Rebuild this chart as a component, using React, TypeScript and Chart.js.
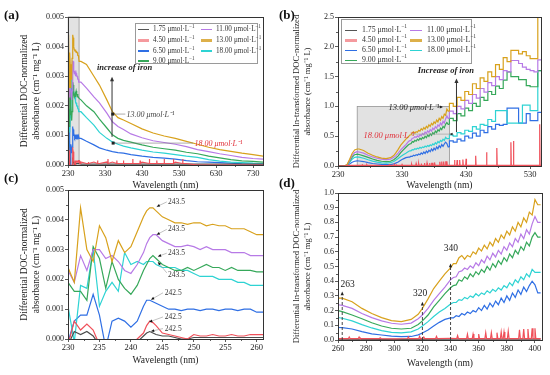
import React, { useEffect, useRef } from 'react';
import { Chart, registerables } from 'chart.js';

Chart.register(...registerables);

const SERIF = '"Liberation Serif", "Times New Roman", Times, serif';

// ---------- legend / series ----------
const concLabels = ['1.75', '4.50', '6.50', '9.00', '11.00', '13.00', '18.00'];
const seriesColors = ['#4d4d4d', '#f0505a', '#2f6fe4', '#36a85a', '#b77ae6', '#d8a11c', '#2ed3d3'];
const legendSampleColors = ['#555555', '#f59a9e', '#2f6fe4', '#36a85a', '#b77ae6', '#ddb04a', '#2ed3d3'];

// ---------- axis ticks ----------
const xTicksA = [230, 330, 430, 530, 630, 730];
const xMinorA = [280, 380, 480, 580, 680];
const xTicksB = [230, 330, 430, 530];
const xMinorB = [280, 380, 480];
const xTicksC = [230, 235, 240, 245, 250, 255, 260];
const xMinorC = [232.5, 237.5, 242.5, 247.5, 252.5, 257.5];
const xTicksD = [260, 280, 300, 320, 340, 360, 380, 400];
const xMinorD = [270, 290, 310, 330, 350, 370, 390];
const yTicksAC = [0, 0.001, 0.002, 0.003, 0.004, 0.005];
const yMinorAC = [0.0005, 0.0015, 0.0025, 0.0035, 0.0045];
const yTicksB = [0, 0.5, 1.0, 1.5, 2.0, 2.5];
const yMinorB = [0.25, 0.75, 1.25, 1.75, 2.25];
const yTicksD = [0, 0.1, 0.2, 0.3, 0.4, 0.5, 0.6, 0.7, 0.8, 0.9, 1.0];
const yMinorD = [0.05, 0.15, 0.25, 0.35, 0.45, 0.55, 0.65, 0.75, 0.85, 0.95];

// ---------- panel (c): 230-261 nm (also start of panel a) ----------
const wlC = [230, 231, 232, 233, 234, 235, 236, 237, 238, 239, 240, 241, 242, 242.5, 243, 243.5, 244, 245, 246, 247, 248, 249, 250, 251, 252, 253, 254, 255, 256, 257, 258, 259, 260, 261];
const cBlack = [-0.0002, 0.00025, 0.00015, 0.00025, 0.0001, -0.0002, -0.0003, -0.0003, -0.0003, -0.0003, -0.0002, -0.0001, 0.0001, 0.0002, 0.00025, 0.0002, 0.00015, 0.0001, 0.0001, 0.00005, 0, 0, 0.00005, 0.00005, 0.00005, 0.00005, 0.00005, 0.00005, 0.00005, 0.00005, 0.00005, 0.00005, 0.00005, 0.00005];
const cRed = [-0.0002, 0.0006, 0.0003, 0.0005, 0.0003, -0.0002, -0.0004, -0.0003, -0.0004, -0.0003, -0.0002, 0, 0.0002, 0.00045, 0.0006, 0.00055, 0.00045, 0.0002, 0.00015, 0.0001, 0.00005, 0, 0.00015, 0.0001, 0.0001, 0.00015, 0.0001, 0.0001, 0.00015, 0.0001, 0.0001, 0.00015, 0.00015, 0.00015];
const cBlue = [-0.0001, 0.0006, 0.0008, 0.0008, 0.0015, 0.0008, -0.0003, 0.0006, 0.0007, 0.0006, 0.0004, 0.0006, 0.0011, 0.0013, 0.0013, 0.00125, 0.0012, 0.0011, 0.001, 0.001, 0.00095, 0.001, 0.001, 0.00095, 0.001, 0.001, 0.00095, 0.001, 0.001, 0.00095, 0.001, 0.001, 0.0009, 0.0009];
const cCyan = [0.0011, -0.0001, 0.0018, 0.0017, 0.003, 0.0011, 0.0016, 0.0019, 0.0016, 0.0029, 0.0025, 0.0026, 0.0025, 0.0026, 0.0026, 0.0026, 0.0025, 0.0024, 0.0024, 0.0024, 0.0023, 0.0023, 0.0022, 0.0021, 0.0021, 0.0021, 0.002, 0.002, 0.002, 0.0019, 0.0019, 0.0018, 0.0018, 0.0018];
const cGreen = [0.0019, 0.0016, 0.0016, 0.0013, 0.0031, 0.0027, 0.0017, 0.0026, 0.002, 0.0017, 0.0015, 0.0018, 0.0023, 0.0025, 0.0027, 0.0028, 0.0027, 0.0025, 0.0024, 0.0023, 0.0023, 0.0024, 0.0023, 0.0024, 0.0025, 0.0024, 0.0024, 0.0023, 0.0024, 0.0023, 0.0023, 0.0023, 0.00225, 0.00225];
const cPurple = [0.0023, 0.0019, 0.0028, 0.0023, 0.003, 0.003, 0.0027, 0.0028, 0.0026, 0.0023, 0.0022, 0.0025, 0.0029, 0.0032, 0.0034, 0.0035, 0.0035, 0.0033, 0.0032, 0.0031, 0.0031, 0.00315, 0.0031, 0.003, 0.0031, 0.003, 0.003, 0.003, 0.0029, 0.0029, 0.0029, 0.0028, 0.0028, 0.0028];
const cGold = [0.0024, 0.0019, 0.0044, 0.003, 0.0026, 0.0038, 0.0034, 0.0026, 0.0033, 0.0029, 0.0031, 0.0036, 0.0041, 0.0043, 0.0044, 0.0044, 0.0043, 0.0041, 0.004, 0.0039, 0.0039, 0.00385, 0.0039, 0.0039, 0.0038, 0.00385, 0.0038, 0.0038, 0.0037, 0.0037, 0.0037, 0.0036, 0.0035, 0.0035];

// ---------- panel (a): 265-757 nm ----------
const wlATail = [265, 280, 300, 315, 335, 350, 365, 380, 400, 430, 460, 490, 520, 550, 580, 610, 640, 670, 700, 730, 757];
const tailAGold = [0.0035, 0.0034, 0.003, 0.0027, 0.0022, 0.0018, 0.0016, 0.00152, 0.0014, 0.00122, 0.00108, 0.00098, 0.0009, 0.0008, 0.0007, 0.0006, 0.00052, 0.00046, 0.0004, 0.00035, 0.0003];
const tailAPurple = [0.0028, 0.0026, 0.0023, 0.0021, 0.00175, 0.00146, 0.0013, 0.0012, 0.00105, 0.00092, 0.00082, 0.00076, 0.0007, 0.00062, 0.00052, 0.00045, 0.00038, 0.00032, 0.00026, 0.00022, 0.0002];
const tailAGreen = [0.0022, 0.002, 0.0018, 0.00155, 0.00125, 0.00102, 0.0009, 0.00083, 0.00077, 0.00068, 0.0006, 0.00055, 0.0005, 0.00043, 0.00038, 0.0003, 0.00024, 0.00018, 0.00014, 0.00012, 0.0001];
const tailACyan = [0.0018, 0.0016, 0.00135, 0.0011, 0.0009, 0.00078, 0.0007, 0.00064, 0.00058, 0.0005, 0.00044, 0.0004, 0.00035, 0.0003, 0.00026, 0.00018, 0.00013, 0.0001, 0.00008, 0.00006, 0.00005];
const tailABlue = [0.0009, 0.0008, 0.00068, 0.00058, 0.0005, 0.00045, 0.00042, 0.0004, 0.00035, 0.0003, 0.00026, 0.00023, 0.0002, 0.00015, 0.00011, 0.0001, 0.00008, 0.00006, 0.00004, 0.00003, 0.00002];
const tailARed = [0.0001, 0.00005, 0.0001, 0.00005, 0.0001, 0.0001, 0.00005, 0.0001, 0.00005, 0.0001, 0.00005, 0.00005, 0.0001, 0.00005, 0, 0, 0, 0, 0, 0, 0];
const wlABlackTail = [265, 757];
const tailABlack = [0.00003, 0.00003];
const redSpikeAWl = [262, 285, 310, 338, 362, 380, 405, 425, 450, 470, 490, 515, 540];
const redSpikeAVal = [0.00015, 0.0001, 0.00015, 0.0002, 0.00015, 0.00015, 0.0002, 0.00015, 0.0002, 0.00015, 0.0002, 0.0002, 0.0002];

// ---------- panel (d): 260-404 nm (also middle of panel b) ----------
const wlD = [260, 263, 270, 277, 284, 291, 298, 305, 312, 317, 320, 324, 328, 332, 336, 340, 342, 344, 346, 348, 350, 352, 354, 356, 358, 360, 362, 364, 366, 368, 370, 372, 374, 376, 378, 380, 382, 384, 386, 388, 390, 392, 394, 396, 398, 400, 402, 404];
const dGold = [0.285, 0.285, 0.26, 0.215, 0.18, 0.152, 0.132, 0.125, 0.14, 0.175, 0.215, 0.28, 0.35, 0.4, 0.45, 0.49, 0.52, 0.52, 0.56, 0.575, 0.55, 0.575, 0.565, 0.6, 0.585, 0.625, 0.605, 0.645, 0.62, 0.665, 0.64, 0.69, 0.665, 0.715, 0.69, 0.74, 0.715, 0.77, 0.74, 0.8, 0.77, 0.83, 0.8, 0.87, 0.85, 0.955, 0.92, 0.92];
const dPurple = [0.24, 0.235, 0.215, 0.18, 0.152, 0.13, 0.114, 0.107, 0.115, 0.145, 0.17, 0.215, 0.27, 0.315, 0.36, 0.41, 0.425, 0.43, 0.465, 0.47, 0.49, 0.48, 0.505, 0.49, 0.525, 0.505, 0.545, 0.525, 0.57, 0.545, 0.59, 0.565, 0.61, 0.585, 0.635, 0.61, 0.66, 0.635, 0.69, 0.665, 0.72, 0.69, 0.75, 0.72, 0.79, 0.84, 0.8, 0.8];
const dGreen = [0.2, 0.193, 0.17, 0.145, 0.117, 0.095, 0.08, 0.075, 0.08, 0.105, 0.13, 0.17, 0.225, 0.27, 0.315, 0.355, 0.37, 0.375, 0.41, 0.4, 0.43, 0.415, 0.45, 0.43, 0.465, 0.445, 0.48, 0.46, 0.5, 0.475, 0.52, 0.495, 0.54, 0.515, 0.56, 0.535, 0.585, 0.56, 0.61, 0.585, 0.635, 0.61, 0.665, 0.64, 0.7, 0.73, 0.7, 0.7];
const dCyan = [0.153, 0.148, 0.13, 0.105, 0.082, 0.064, 0.052, 0.048, 0.055, 0.075, 0.095, 0.125, 0.16, 0.19, 0.215, 0.245, 0.255, 0.255, 0.275, 0.27, 0.29, 0.28, 0.3, 0.29, 0.315, 0.3, 0.32, 0.31, 0.335, 0.32, 0.345, 0.33, 0.355, 0.34, 0.37, 0.355, 0.39, 0.37, 0.41, 0.39, 0.43, 0.41, 0.45, 0.43, 0.48, 0.46, 0.46, 0.46];
const dBlue = [0.085, 0.084, 0.075, 0.057, 0.042, 0.034, 0.027, 0.023, 0.024, 0.035, 0.048, 0.068, 0.095, 0.12, 0.14, 0.15, 0.15, 0.165, 0.16, 0.18, 0.17, 0.19, 0.18, 0.2, 0.19, 0.22, 0.2, 0.235, 0.21, 0.25, 0.225, 0.265, 0.24, 0.285, 0.255, 0.3, 0.27, 0.32, 0.29, 0.34, 0.31, 0.36, 0.33, 0.37, 0.4, 0.375, 0.32, 0.32];
const wlDRed = [260, 280, 300, 320, 340, 360, 380, 404];
const dRed = [0.01, 0.01, 0.008, 0.01, 0.012, 0.01, 0.01, 0.01];
const redSpikeDWl = [268, 275, 290, 310, 318, 321, 330, 345, 352, 356, 360, 365, 369, 373, 376, 378, 381, 389, 392, 395, 398, 400];
const redSpikeDVal = [0.02, 0.02, 0.015, 0.02, 0.025, 0.02, 0.025, 0.03, 0.04, 0.04, 0.04, 0.05, 0.05, 0.05, 0.055, 0.055, 0.06, 0.07, 0.075, 0.075, 0.08, 0.08];
const wlDBlack = [260, 300, 340, 380, 404];
const dBlack = [0.005, 0.004, 0.006, 0.006, 0.006];

// ---------- panel (b): head 230-256 and tail 404-547 ----------
const wlBHead = [230, 236, 240, 244, 248, 252, 256];
const bHeadGold = [0, 0, 0.003, 0.02, 0.11, 0.21, 0.27];
const bHeadPurple = [0, 0, 0.002, 0.017, 0.09, 0.175, 0.225];
const bHeadGreen = [0, 0, 0.002, 0.014, 0.077, 0.147, 0.19];
const bHeadCyan = [0, 0, 0.001, 0.011, 0.06, 0.113, 0.145];
const bHeadBlue = [0, 0, 0.001, 0.006, 0.033, 0.063, 0.08];
const bHeadRed = [0, 0, 0, 0.005, 0.01, 0.01, 0.01];
const bHeadBlack = [0, 0, 0, 0, 0, 0.003, 0.005];
const wlBTail = [404, 410, 416, 422, 428, 434, 440, 446, 452, 458, 464, 470, 476, 482, 488, 494, 500, 506, 512, 518, 524, 530, 536, 542, 545, 547];
const tailBGold = [0.92, 1.05, 1.0, 1.15, 1.1, 1.25, 1.2, 1.38, 1.3, 1.48, 1.42, 1.58, 1.5, 1.7, 1.62, 1.82, 1.75, 1.94, 1.94, 1.88, 1.92, 1.85, 1.8, 1.8, 2.5, 2.5];
const tailBPurple = [0.8, 0.92, 0.88, 1.0, 0.96, 1.1, 1.05, 1.2, 1.14, 1.3, 1.24, 1.4, 1.35, 1.5, 1.45, 1.6, 1.58, 1.77, 1.77, 1.72, 1.66, 1.62, 1.6, 1.58, 1.78, 1.78];
const tailBGreen = [0.7, 0.8, 0.76, 0.88, 0.84, 0.97, 0.93, 1.05, 1.0, 1.15, 1.1, 1.25, 1.2, 1.34, 1.3, 1.44, 1.58, 1.5, 1.5, 1.45, 1.45, 1.35, 1.33, 1.33, 1.6, 1.6];
const tailBCyan = [0.46, 0.52, 0.5, 0.56, 0.54, 0.6, 0.58, 0.66, 0.62, 0.7, 0.68, 0.78, 0.75, 0.93, 0.93, 0.93, 0.72, 0.72, 0.72, 0.72, 1.02, 1.02, 0.93, 0.93, 1.6, 1.6];
const tailBBlue = [0.32, 0.42, 0.4, 0.45, 0.42, 0.5, 0.47, 0.55, 0.5, 0.6, 0.56, 0.66, 0.62, 0.7, 0.68, 0.7, 0.97, 0.97, 0.97, 0.72, 0.72, 0.88, 0.76, 0.76, 0.9, 0.9];
const redTailBWl = [404, 547];
const redTailBVal = [0.01, 0.01];
const blackTailBWl = [404, 547];
const blackTailBVal = [0.005, 0.005];
const redSpikeBWl = [412, 416, 420, 425, 430, 445, 462, 478, 500, 504, 545];
const redSpikeBVal = [0.1, 0.1, 0.1, 0.11, 0.12, 0.17, 0.23, 0.3, 0.4, 0.42, 0.7];

// ---------- helpers ----------
type Pt = { x: number; y: number };
const pts = (xs: number[], ys: number[]): Pt[] => xs.map((x, i) => ({ x, y: ys[i] }));
const spikes = (xs: number[], ys: number[], base: number): Pt[] =>
  xs.flatMap((x, i) => [{ x: x - 0.6, y: base }, { x, y: ys[i] }, { x: x + 0.6, y: base }]);
const merge = (...arrs: Pt[][]): Pt[] => arrs.flat().sort((a, b) => a.x - b.x);

const ds = (label: string, color: string, data: Pt[], extra: any = {}) => ({
  label, data, borderColor: color, backgroundColor: color, borderWidth: 1.2,
  pointRadius: 0, fill: false, tension: 0, ...extra,
});

const [cBk, cRd, cBl, cGr, cPu, cGo, cCy] = seriesColors;

function seg(ctx: CanvasRenderingContext2D, x1: number, y1: number, x2: number, y2: number) {
  ctx.beginPath(); ctx.moveTo(x1, y1); ctx.lineTo(x2, y2); ctx.stroke();
}
function head(ctx: CanvasRenderingContext2D, x: number, y: number, ang: number, size = 4, w = 0.42) {
  ctx.beginPath();
  ctx.moveTo(x, y);
  ctx.lineTo(x - size * Math.cos(ang - w), y - size * Math.sin(ang - w));
  ctx.lineTo(x - size * Math.cos(ang + w), y - size * Math.sin(ang + w));
  ctx.closePath(); ctx.fill();
}
function px(c: any) {
  const xs = c.scales.x, ys = c.scales.y;
  return [(v: number) => xs.getPixelForValue(v), (v: number) => ys.getPixelForValue(v)] as const;
}
function shade(c: any, x0: number, x1: number, y0: number, y1: number) {
  const [X, Y] = px(c); const ctx = c.ctx;
  ctx.fillStyle = 'rgba(190,190,190,0.45)';
  ctx.fillRect(X(x0), Y(y1), X(x1) - X(x0), Y(y0) - Y(y1));
  ctx.strokeStyle = 'rgba(140,140,140,0.9)'; ctx.lineWidth = 0.8;
  ctx.strokeRect(X(x0), Y(y1), X(x1) - X(x0), Y(y0) - Y(y1));
}

// ---------- decorations ----------
const decoA = (c: any) => {
  const [X, Y] = px(c); const ctx = c.ctx;
  ctx.strokeStyle = '#333'; ctx.fillStyle = '#333'; ctx.lineWidth = 1;
  seg(ctx, X(349), Y(0.00095), X(349), Y(0.0029));
  head(ctx, X(349), Y(0.00298), -Math.PI / 2, 5);
  ctx.font = `bold italic 8.5px ${SERIF}`; ctx.textAlign = 'center'; ctx.textBaseline = 'middle';
  ctx.fillStyle = '#222';
  ctx.fillText('increase of iron', X(383), Y(0.00328));
  ctx.strokeStyle = '#777'; ctx.lineWidth = 0.6;
  seg(ctx, X(351), Y(0.00172), X(385), Y(0.00172));
  seg(ctx, X(352), Y(0.00074), X(568), Y(0.00074));
  ctx.fillStyle = '#222';
  ctx.fillRect(X(351) - 1.5, Y(0.00172) - 1.5, 3, 3);
  ctx.fillRect(X(352) - 1.5, Y(0.00074) - 1.5, 3, 3);
  ctx.font = `italic 8px ${SERIF}`; ctx.textAlign = 'left';
  ctx.fillStyle = '#444';
  ctx.fillText('13.00 μmol·L⁻¹', X(388), Y(0.0017));
  ctx.fillStyle = '#e0303a';
  ctx.fillText('18.00 μmol·L⁻¹', X(572), Y(0.0007));
};
const decoABefore = (c: any) => shade(c, 230.6, 260, 0, 0.005);

const decoBBefore = (c: any) => shade(c, 260, 404, 0, 1.0);
const decoB = (c: any) => {
  const [X, Y] = px(c); const ctx = c.ctx;
  ctx.strokeStyle = '#333'; ctx.fillStyle = '#333'; ctx.lineWidth = 1;
  seg(ctx, X(415), Y(0.57), X(415), Y(1.42));
  head(ctx, X(415), Y(1.47), -Math.PI / 2, 5);
  ctx.font = `bold italic 8.5px ${SERIF}`; ctx.textAlign = 'center'; ctx.textBaseline = 'middle';
  ctx.fillStyle = '#222';
  ctx.fillText('Increase of iron', X(398.5), Y(1.6));
  ctx.font = `italic 8.5px ${SERIF}`; ctx.textAlign = 'right';
  ctx.fillText('13.00 μmol·L⁻¹', X(388), Y(0.98));
  ctx.lineWidth = 0.7;
  seg(ctx, X(388.5), Y(0.99), X(392), Y(0.99));
  head(ctx, X(394), Y(0.99), 0, 3.5);
  ctx.textAlign = 'left'; ctx.fillStyle = '#e0303a';
  ctx.fillText('18.00 μmol·L⁻¹', X(270), Y(0.51));
  ctx.strokeStyle = '#999'; ctx.lineWidth = 0.6;
  seg(ctx, X(345), Y(0.535), X(404), Y(0.535));
  ctx.fillStyle = '#222';
  head(ctx, X(404), Y(0.535), Math.PI, 3.5);
};

const decoC = (c: any) => {
  const [X, Y] = px(c); const ctx = c.ctx;
  const labels: [string, number, number, number, number, number][] = [
    ['243.5', 244.1, 0.00444, 245.7, 0.0046, 245.9],
    ['243.5', 244.1, 0.0035, 245.7, 0.00368, 245.9],
    ['243.5', 244.3, 0.00277, 245.7, 0.00288, 245.9],
    ['243.5', 244.3, 0.00258, 245.7, 0.00222, 245.9],
    ['242.5', 243.2, 0.00132, 245.1, 0.00155, 245.4],
    ['242.5', 242.9, 0.00057, 245.1, 0.00074, 245.4],
    ['242.5', 243.2, 0.00026, 245.1, 0.00035, 245.4],
  ];
  ctx.font = `7.5px ${SERIF}`; ctx.textAlign = 'left'; ctx.textBaseline = 'middle';
  labels.forEach(([t, ax, ay, bx, by, tx], i) => {
    ctx.strokeStyle = '#999'; ctx.lineWidth = 0.6;
    seg(ctx, X(ax), Y(ay), X(bx), Y(by));
    const ang = Math.atan2(Y(ay) - Y(by), X(ax) - X(bx));
    ctx.fillStyle = '#111';
    head(ctx, X(ax), Y(ay), ang, 3.5);
    ctx.fillStyle = '#333';
    ctx.fillText(t, X(tx), Y(i === 3 ? 0.00213 : by));
  });
};

const decoD = (c: any) => {
  const [X, Y] = px(c); const ctx = c.ctx;
  const marks: [number, number, string, number, number][] = [
    [263, 0.33, '263', 266.8, 0.375],
    [320, 0.26, '320', 318.3, 0.318],
    [340, 0.52, '340', 340.2, 0.625],
  ];
  ctx.font = `9.5px ${SERIF}`; ctx.textAlign = 'center'; ctx.textBaseline = 'middle';
  marks.forEach(([w, top, t, tx, ty]) => {
    ctx.strokeStyle = '#333'; ctx.lineWidth = 0.9; ctx.setLineDash([3, 2]);
    seg(ctx, X(w), Y(0), X(w), Y(top) + 3);
    ctx.setLineDash([]);
    ctx.fillStyle = '#222';
    head(ctx, X(w), Y(top), -Math.PI / 2, 4);
    ctx.fillText(t, X(tx), Y(ty));
  });
};

function frame(c: any, p: any) {
  const a = c.chartArea; const ctx = c.ctx;
  const [X, Y] = px(c);
  ctx.save();
  ctx.strokeStyle = '#333'; ctx.lineWidth = 1;
  ctx.strokeRect(Math.round(a.left) + 0.5, Math.round(a.top) + 0.5, Math.round(a.right - a.left), Math.round(a.bottom - a.top));
  ctx.lineWidth = 0.8;
  p.xMinor.forEach((v: number) => { const x = Math.round(X(v)) + 0.5; seg(ctx, x, a.bottom, x, a.bottom + 2); });
  p.yMinor.forEach((v: number) => { const y = Math.round(Y(v)) + 0.5; seg(ctx, a.left - 2, y, a.left, y); });
  ctx.restore();
}

// ---------- datasets ----------
const datasetsA = [
  ds('4.50', cRd, merge(pts(wlC, cRed), pts(wlATail, tailARed), spikes(redSpikeAWl, redSpikeAVal, 0.00005))),
  ds('1.75', cBk, merge(pts(wlC, cBlack), pts(wlABlackTail, tailABlack))),
  ds('13.00', cGo, pts([...wlC, ...wlATail], [...cGold, ...tailAGold])),
  ds('11.00', cPu, pts([...wlC, ...wlATail], [...cPurple, ...tailAPurple])),
  ds('9.00', cGr, pts([...wlC, ...wlATail], [...cGreen, ...tailAGreen])),
  ds('18.00', cCy, pts([...wlC, ...wlATail], [...cCyan, ...tailACyan])),
  ds('6.50', cBl, pts([...wlC, ...wlATail], [...cBlue, ...tailABlue])),
];

const datasetsB = [
  ds('4.50', cRd, merge(pts(wlBHead, bHeadRed), pts(wlDRed, dRed), spikes(redSpikeDWl, redSpikeDVal, 0.01), pts(redTailBWl, redTailBVal), spikes(redSpikeBWl, redSpikeBVal, 0.01))),
  ds('1.75', cBk, merge(pts(wlBHead, bHeadBlack), pts(wlDBlack, dBlack), pts(blackTailBWl, blackTailBVal))),
  ds('13.00', cGo, pts([...wlBHead, ...wlD], [...bHeadGold, ...dGold])),
  ds('13.00t', cGo, pts(wlBTail, tailBGold), { stepped: 'after' }),
  ds('11.00', cPu, pts([...wlBHead, ...wlD], [...bHeadPurple, ...dPurple])),
  ds('11.00t', cPu, pts(wlBTail, tailBPurple), { stepped: 'after' }),
  ds('9.00', cGr, pts([...wlBHead, ...wlD], [...bHeadGreen, ...dGreen])),
  ds('9.00t', cGr, pts(wlBTail, tailBGreen), { stepped: 'after' }),
  ds('18.00', cCy, pts([...wlBHead, ...wlD], [...bHeadCyan, ...dCyan])),
  ds('18.00t', cCy, pts(wlBTail, tailBCyan), { stepped: 'after' }),
  ds('6.50', cBl, pts([...wlBHead, ...wlD], [...bHeadBlue, ...dBlue])),
  ds('6.50t', cBl, pts(wlBTail, tailBBlue), { stepped: 'after' }),
];

const datasetsC = [
  ds('4.50', cRd, pts(wlC, cRed)),
  ds('1.75', cBk, pts(wlC, cBlack)),
  ds('13.00', cGo, pts(wlC, cGold)),
  ds('11.00', cPu, pts(wlC, cPurple)),
  ds('9.00', cGr, pts(wlC, cGreen)),
  ds('18.00', cCy, pts(wlC, cCyan)),
  ds('6.50', cBl, pts(wlC, cBlue)),
];

const datasetsD = [
  ds('4.50', cRd, merge(pts(wlDRed, dRed), spikes(redSpikeDWl, redSpikeDVal, 0.01))),
  ds('1.75', cBk, pts(wlDBlack, dBlack)),
  ds('13.00', cGo, pts(wlD, dGold)),
  ds('11.00', cPu, pts(wlD, dPurple)),
  ds('9.00', cGr, pts(wlD, dGreen)),
  ds('18.00', cCy, pts(wlD, dCyan)),
  ds('6.50', cBl, pts(wlD, dBlue)),
];

const yTitle1 = ['Differential DOC-normalized', 'absorbance (cm⁻¹ mg⁻¹ L)'];
const yTitle2 = ['Differential ln-transformed DOC-normalized', 'absorbance (cm⁻¹ mg⁻¹ L)'];

const panels = [
  { id: 'a', left: 0, top: 5, w: 275, h: 190, padT: 12, padR: 12, yW: 68, xH: 30, xTitlePad: 4, yTitlePad: 19, yTitleSize: 9.5,
    xMin: 230, xMax: 757, yMin: 0, yMax: 0.005, xTicks: xTicksA, xMinor: xMinorA, yTicks: yTicksAC, yMinor: yMinorAC, yDec: 3, yTitle: yTitle1,
    datasets: datasetsA, before: decoABefore, after: decoA },
  { id: 'b', left: 275, top: 5, w: 275, h: 190, padT: 12, padR: 9, yW: 63, xH: 29, xTitlePad: 4, yTitlePad: 17, yTitleSize: 8.5,
    xMin: 230, xMax: 547, yMin: 0, yMax: 2.5, xTicks: xTicksB, xMinor: xMinorB, yTicks: yTicksB, yMinor: yMinorB, yDec: 1, yTitle: yTitle2,
    datasets: datasetsB, before: decoBBefore, after: decoB },
  { id: 'c', left: 0, top: 180, w: 275, h: 195, padT: 10, padR: 12, yW: 68, xH: 36, xTitlePad: 9, yTitlePad: 19, yTitleSize: 9.5,
    xMin: 230, xMax: 261, yMin: 0, yMax: 0.005, xTicks: xTicksC, xMinor: xMinorC, yTicks: yTicksAC, yMinor: yMinorAC, yDec: 3, yTitle: yTitle1,
    datasets: datasetsC, before: null, after: decoC },
  { id: 'd', left: 275, top: 180, w: 275, h: 195, padT: 13, padR: 8, yW: 63, xH: 35, xTitlePad: 6, yTitlePad: 17, yTitleSize: 8.5,
    xMin: 260, xMax: 405, yMin: 0, yMax: 1.0, xTicks: xTicksD, xMinor: xMinorD, yTicks: yTicksD, yMinor: yMinorD, yDec: 1, yTitle: yTitle2,
    datasets: datasetsD, before: null, after: decoD },
];

function buildConfig(p: any): any {
  const tickFont = { family: SERIF, size: 8.5 };
  const grid = { drawOnChartArea: false, drawTicks: true, tickLength: 3, color: '#333', lineWidth: 0.8 };
  const border = { display: true, color: '#333', width: 1 };
  return {
    type: 'line',
    data: { datasets: p.datasets },
    options: {
      animation: false, responsive: false, events: [],
      layout: { padding: { left: 0, right: p.padR, top: p.padT, bottom: 0 } },
      plugins: { legend: { display: false }, tooltip: { enabled: false } },
      elements: { point: { radius: 0 }, line: { tension: 0, borderWidth: 1.2 } },
      scales: {
        x: {
          type: 'linear', min: p.xMin, max: p.xMax,
          afterBuildTicks: (s: any) => { s.ticks = p.xTicks.map((v: number) => ({ value: v })); },
          afterFit: (s: any) => { s.height = p.xH; },
          ticks: { autoSkip: false, maxRotation: 0, padding: 1, color: '#222', font: tickFont, callback: (v: any) => String(v) },
          grid, border,
          title: { display: true, text: 'Wavelength (nm)', color: '#222', font: { family: SERIF, size: 9.5 }, padding: { top: 0, bottom: p.xTitlePad } },
        },
        y: {
          type: 'linear', min: p.yMin, max: p.yMax,
          afterBuildTicks: (s: any) => { s.ticks = p.yTicks.map((v: number) => ({ value: v })); },
          afterFit: (s: any) => { s.width = p.yW; },
          ticks: { padding: 1, color: '#222', font: { family: SERIF, size: 8 }, callback: (v: any) => Number(v).toFixed(p.yDec) },
          grid, border,
          title: { display: true, text: p.yTitle, color: '#222', font: { family: SERIF, size: p.yTitleSize }, padding: { top: p.yTitlePad, bottom: 0 } },
        },
      },
    },
    plugins: [{
      id: 'deco' + p.id,
      beforeDatasetsDraw(c: any) { if (p.before) { c.ctx.save(); p.before(c); c.ctx.restore(); } },
      afterDatasetsDraw(c: any) { if (p.after) { c.ctx.save(); p.after(c); c.ctx.restore(); } },
      afterDraw(c: any) { frame(c, p); },
    }],
  };
}

function Panel({ p }: { p: any }) {
  const ref = useRef<HTMLCanvasElement>(null);
  useEffect(() => {
    const chart = new Chart(ref.current as HTMLCanvasElement, buildConfig(p));
    return () => chart.destroy();
  }, []);
  return (
    <canvas ref={ref} width={p.w} height={p.h}
      style={{ position: 'absolute', left: p.left, top: p.top, width: p.w, height: p.h }} />
  );
}

function Legend({ left, top, width, height, fontSize, rowY, colX, sampleW, textOff }: any) {
  return (
    <div style={{ position: 'absolute', left, top, width, height, border: '1px solid #9a9a9a', background: '#fff', boxSizing: 'border-box' }}>
      {concLabels.map((c, i) => {
        const col = i < 4 ? 0 : 1;
        const row = i < 4 ? i : i - 4;
        const x = colX[col];
        const y = rowY[row];
        const thick = i === 1 || i === 5;
        const th = thick ? 2.5 : 1.3;
        return (
          <React.Fragment key={c}>
            <div style={{ position: 'absolute', left: x, top: y - th / 2, width: sampleW, height: th, background: legendSampleColors[i] }} />
            <div style={{ position: 'absolute', left: x + sampleW + textOff, top: y - fontSize * 0.62, fontSize, lineHeight: `${fontSize * 1.2}px`, whiteSpace: 'nowrap', color: '#333' }}>
              {c} μmol·L<sup style={{ fontSize: '0.7em', lineHeight: 0, verticalAlign: 'super' }}>−1</sup>
            </div>
          </React.Fragment>
        );
      })}
    </div>
  );
}

function PanelLabel({ text, left, top }: any) {
  return (
    <div style={{ position: 'absolute', left, top, fontSize: 13, fontWeight: 'bold', lineHeight: '14px', color: '#111' }}>{text}</div>
  );
}

export default function App() {
  return (
    <div style={{ position: 'fixed', left: 0, top: 0, width: 550, height: 375, background: '#fff', overflow: 'hidden', fontFamily: SERIF }}>
      {panels.map((p) => <Panel key={p.id} p={p} />)}
      <Legend left={135} top={23} width={123} height={41} fontSize={7.2} rowY={[5.5, 16.5, 27, 37]} colX={[2, 65]} sampleW={11} textOff={4} />
      <Legend left={341} top={19} width={131} height={45} fontSize={7.8} rowY={[10.3, 20.3, 30.3, 40.3]} colX={[3, 68]} sampleW={12} textOff={5} />
      <PanelLabel text="(a)" left={4} top={8} />
      <PanelLabel text="(b)" left={279} top={8} />
      <PanelLabel text="(c)" left={4} top={171} />
      <PanelLabel text="(d)" left={279} top={176} />
    </div>
  );
}
